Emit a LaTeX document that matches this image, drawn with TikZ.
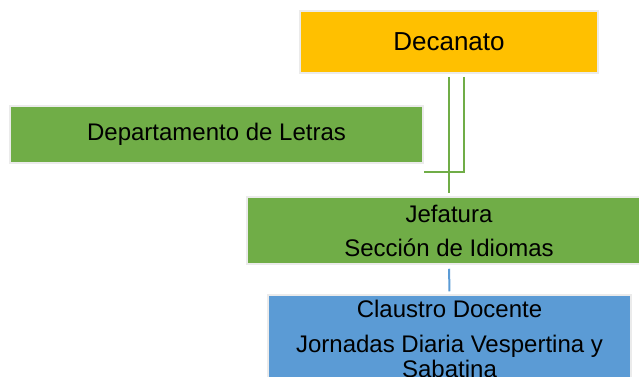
\documentclass[tikz,border=0pt]{standalone}
\usepackage{fontspec}
\setmainfont{Liberation Sans}
\usetikzlibrary{positioning}
\definecolor{gold}{HTML}{FFC000}
\definecolor{leaf}{HTML}{70AD47}
\definecolor{sky}{HTML}{5B9BD5}
\tikzset{
	orgbox/.style={rectangle, fill=#1, draw=black!8, line width=1.5pt, inner sep=0pt},
	link/.style={draw=leaf, line width=2pt},
	bluelink/.style={draw=sky, line width=2pt}
}

\begin{document}
\begin{tikzpicture}[x=1pt,y=-1pt]
		\useasboundingbox (0,0) rectangle (639,376);
		\clip (0,0) rectangle (639,376);

		\node[orgbox=gold, minimum width=298pt, minimum height=62pt, font=\fontsize{26}{28}\selectfont] (decanato) at (449,42) {Decanato};
		\node[orgbox=leaf, minimum width=413pt, minimum height=57pt, font=\fontsize{24}{26}\selectfont] (dept) at (216.5,134.5) {Departamento de Letras};
		\node[orgbox=leaf, minimum width=404pt, minimum height=67pt, align=center, font=\fontsize{24}{34}\selectfont] (jefatura) at (449,230.5) {Jefatura\\Sección de Idiomas};
		\node[orgbox=sky, minimum width=363pt, minimum height=100pt] (claustro) at (449.5,345) {};
		\node[anchor=north, inner sep=0pt, align=center, font=\fontsize{24}{25}\selectfont] (claustrotxt) at (449.5,299.5) {Claustro Docente\\[10pt]Jornadas Diaria Vespertina y\\Sabatina};

		\draw[link, shorten <=3pt, shorten >=3pt] (decanato.south) -- (jefatura.north);
		\draw[link] ([xshift=15pt,yshift=-3pt]decanato.south) |- ([yshift=-8pt]dept.south east);
		\draw[bluelink, shorten <=4pt, shorten >=3pt] (jefatura.south) -- (claustro.north);
	\end{tikzpicture}
\end{document}
